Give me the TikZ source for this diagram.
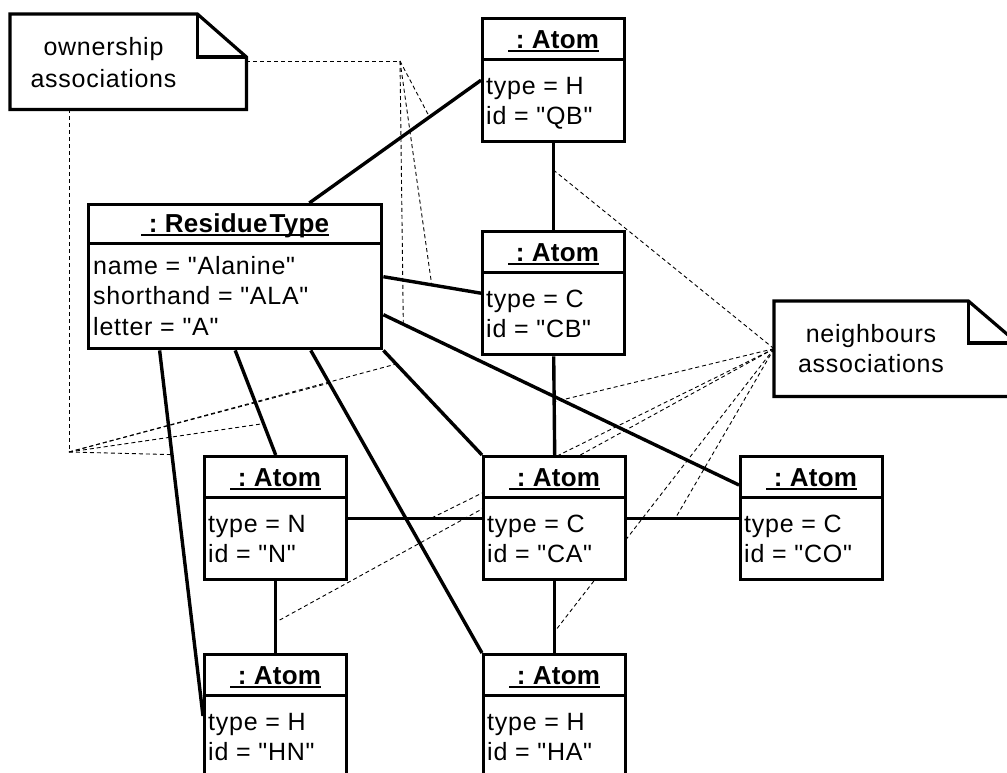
\documentclass[tikz,border=0pt]{standalone}
\usepackage{fontspec}
\setmainfont{Liberation Sans}[LetterSpace=3, Ligatures=TeXOff]
\newfontfamily\headfont{Liberation Sans}[LetterSpace=1, Ligatures=TeXOff]
\usetikzlibrary{calc,backgrounds}

\tikzset{
  objbox/.style={draw, line width=3.4pt, fill=white, minimum width=142pt,
    minimum height=123pt, inner sep=0pt, anchor=north west},
  divider/.style={line width=3pt},
  hdr/.style={inner sep=0pt, anchor=base,
    font=\headfont\bfseries\fontsize{26pt}{30pt}\selectfont},
  uline/.style={line width=1.3pt},
  attr/.style={inner sep=0pt, anchor=base west,
    font=\fontsize{25pt}{30pt}\selectfont},
  link/.style={line width=3.4pt},
  assoc/.style={line width=0.9pt, dash pattern=on 4pt off 3pt},
  notearea/.style={inner sep=0pt, anchor=north west, minimum height=95pt},
  noteline/.style={line width=3.2pt, fill=white, line join=miter},
  notetext/.style={inner sep=0pt, anchor=base,
    font=\fontsize{25pt}{30pt}\selectfont},
}

% object box of class Atom: name, left x, top y, type, id
\newcommand\atomobj[5]{%
  \node[objbox] (#1) at (#2,#3) {};
  \draw[divider] ([yshift=-42pt]#1.north west) -- ([yshift=-42pt]#1.north east);
  \node[hdr] (#1-h) at ([yshift=-31pt]#1.north) {\ :\ Atom};
  \draw[uline] ([yshift=-3pt]#1-h.base west) -- ([yshift=-3pt]#1-h.base east);
  \node[attr] (#1-t) at ([xshift=5pt,yshift=-77pt]#1.north west) {type = #4};
  \node[attr] (#1-i) at ([xshift=5pt,yshift=-107pt]#1.north west) {id = "#5"};
}

\begin{document}
\begin{tikzpicture}[x=1pt,y=-1pt]
\useasboundingbox (0,0) rectangle (1007,772);
\clip (0,0) rectangle (1007,772);

% residue type object
\node[draw, line width=3.4pt, fill=white, minimum width=293pt, minimum height=144pt,
      inner sep=0pt, anchor=north west] (rt) at (87,203) {};
\draw[divider] ([yshift=-40pt]rt.north west) -- ([yshift=-40pt]rt.north east);
\node[hdr] (rt-h) at ([yshift=-29pt]rt.north) {\ :\ Residue\kern2pt Type};
\draw[uline] ([yshift=-3pt]rt-h.base west) -- ([yshift=-3pt]rt-h.base east);
\node[attr] (rt-a) at ([xshift=6pt,yshift=-71pt]rt.north west) {name = "Alanine"};
\node[attr] (rt-b) at ([xshift=6pt,yshift=-101pt]rt.north west) {shorthand = "ALA"};
\node[attr] (rt-c) at ([xshift=6pt,yshift=-132pt]rt.north west) {letter = "A"};

% atoms
\atomobj{qb}{481}{17}{H}{QB}
\atomobj{cb}{481}{230}{C}{CB}
\atomobj{ca}{482}{455}{C}{CA}
\atomobj{n}{203}{455}{N}{N}
\atomobj{co}{739}{455}{C}{CO}
\atomobj{hn}{203}{653}{H}{HN}
\atomobj{ha}{482}{653}{H}{HA}

% note: ownership associations
\node[notearea, minimum width=236pt] (own) at (10,14) {};
\draw[noteline] (own.north west) -- ([xshift=-49pt]own.north east)
  -- ([yshift=-43pt]own.north east) -- (own.south east) -- (own.south west) -- cycle;
\draw[noteline, fill=none] ([xshift=-49pt]own.north east) -- ([xshift=-49pt,yshift=-43pt]own.north east)
  -- ([yshift=-43pt]own.north east);
\node[notetext] (own-1) at ([xshift=93.5pt,yshift=-41pt]own.north west) {ownership};
\node[notetext] (own-2) at ([xshift=93.5pt,yshift=-73pt]own.north west) {associations};

% note: neighbours associations
\node[notearea, minimum width=243pt] (nbr) at (774,301) {};
\draw[noteline] (nbr.north west) -- ([xshift=-49pt]nbr.north east)
  -- ([yshift=-42pt]nbr.north east) -- (nbr.south east) -- (nbr.south west) -- cycle;
\draw[noteline, fill=none] ([xshift=-49pt]nbr.north east) -- ([xshift=-49pt,yshift=-42pt]nbr.north east)
  -- ([yshift=-42pt]nbr.north east);
\node[notetext] (nbr-1) at ([xshift=97pt,yshift=-41pt]nbr.north west) {neighbours};
\node[notetext] (nbr-2) at ([xshift=97pt,yshift=-71pt]nbr.north west) {associations};

\begin{pgfonlayer}{background}
\fill[white] (0,0) rectangle (1007,772);

% ownership links from the residue type
\draw[link] ($(rt.north west)!0.75!(rt.north east)$) -- coordinate[pos=0.70] (oQB) (qb.west);
\draw[link] (rt.east) -- coordinate[pos=0.495] (oCB) (cb.west);
\draw[link] ([yshift=-38pt]rt.east) -- coordinate[pos=0.056] (oCO) ([yshift=-30pt]co.north west);
\draw[link] (rt.south east) -- coordinate[pos=0.13] (oCA) (ca.north west);
\draw[link] ($(rt.south west)!0.755!(rt.south east)$) -- coordinate[pos=0.108] (oHA) (ha.north west);
\draw[link] (rt.south) -- coordinate[pos=0.70] (oN) (n.north);
\draw[link] ($(rt.south west)!0.245!(rt.south east)$) -- coordinate[pos=0.285] (oHN) ([yshift=-63pt]hn.north west);

% neighbour links between atoms
\draw[link] (qb.south) -- coordinate[pos=0.31] (bQBCB) (cb.north);
\draw[link] (cb.south) -- coordinate[pos=0.46] (bCBCA) (ca.north);
\draw[link] (ca.south) -- coordinate[pos=0.70] (bCAHA) (ha.north);
\draw[link] (n.east) -- coordinate[pos=0.62] (bNCA) (ca.west);
\draw[link] (ca.east) -- coordinate[pos=0.43] (bCACO) (co.west);
\draw[link] (n.south) -- coordinate[pos=0.57] (bNHN) (hn.north);

% anchors of the ownership note
\coordinate (ownR) at ([yshift=-47pt]own.north east);
\coordinate (ownB) at ([xshift=59pt]own.south west);
\coordinate (oj) at (400,61);
\coordinate (ob) at (69,452);

\draw[assoc] (ownR) -- (oj);
\draw[assoc] (oj) -- (oQB);
\draw[assoc] (oj) -- (oCB);
\draw[assoc] (oj) -- (oCO);
\draw[assoc] (ownB) -- (ob);
\draw[assoc] (ob) -- (oHN);
\draw[assoc] (ob) -- (oN);
\draw[assoc] (ob) -- (oHA);
\draw[assoc] (ob) -- (oCA);

% anchors of the neighbours note
\draw[assoc] (nbr.west) -- (bQBCB);
\draw[assoc] (nbr.west) -- (bCBCA);
\draw[assoc] (nbr.west) -- (bNCA);
\draw[assoc] (nbr.west) -- (bNHN);
\draw[assoc] (nbr.west) -- (bCAHA);
\draw[assoc] (nbr.west) -- (bCACO);
\end{pgfonlayer}
\end{tikzpicture}
\end{document}
